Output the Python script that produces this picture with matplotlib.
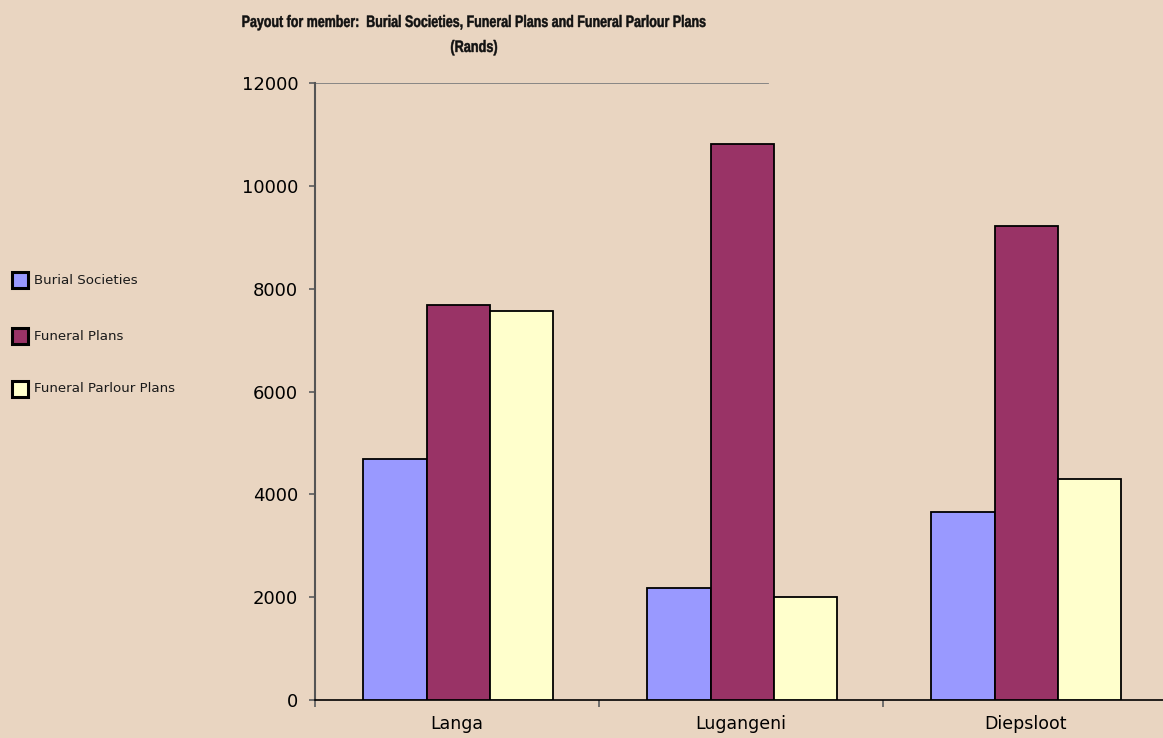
import numpy as np
import matplotlib
matplotlib.use('Agg')
import matplotlib.pyplot as plt
from matplotlib.patches import Rectangle, PathPatch
from matplotlib.textpath import TextPath
from matplotlib.font_manager import FontProperties
from matplotlib.transforms import Affine2D, IdentityTransform

# payout per member, in Rands
places = ['Langa', 'Lugangeni', 'Diepsloot']
burial = [4690, 2180, 3655]
funeral = [7680, 10810, 9220]
parlour = [7565, 2000, 4300]
series = ['Burial Societies', 'Funeral Plans', 'Funeral Parlour Plans']
colours = ['#9999FF', '#993366', '#FFFFCC']
yticks = [0, 2000, 4000, 6000, 8000, 10000, 12000]

W, H = 1163, 738
bg = '#E9D5C1'
fig = plt.figure(figsize=(W / 100, H / 100), dpi=100, facecolor=bg)
ax = fig.add_axes([315 / W, 1 - 700 / H, 852 / W, 617 / H])
ax.set_facecolor(bg)

x = np.arange(len(places))
w = 0.223
for i, vals in enumerate([burial, funeral, parlour]):
    ax.bar(x + (i - 1) * w + 0.005, vals, w, color=colours[i], edgecolor='black',
           linewidth=1.3, zorder=3)

ax.set_xlim(-0.5, 2.5)
ax.set_ylim(0, 12000)
ax.set_yticks(yticks)
ax.set_yticklabels([str(v) for v in yticks], fontsize=13, family='DejaVu Sans')
ax.set_xticks(x)
ax.set_xticklabels(places, fontsize=12.5, family='DejaVu Sans')
ax.tick_params(axis='x', length=0, pad=11)
ax.set_xticks([-0.5, 0.5, 1.5], minor=True)
ax.tick_params(axis='x', which='minor', length=5, width=1.3, color='#666666', direction='out')
ax.tick_params(axis='y', length=4, width=1.3, color='#666666', pad=8)

for s in ['top', 'right']:
    ax.spines[s].set_visible(False)
ax.spines['left'].set_color('#555555')
ax.spines['left'].set_linewidth(1.5)
ax.spines['bottom'].set_color('black')
ax.spines['bottom'].set_linewidth(1.2)

# partial gridline at the top
ax.axhline(12000, xmin=0, xmax=(768 - 315) / 852, color='#808080', linewidth=1.3, zorder=2)


def narrow_text(s, cx, cy, width, size=16.5):
    # bold text squeezed horizontally to a given pixel width, centred on (cx, cy)
    fp = FontProperties(family='Liberation Sans', weight='bold')
    tp = TextPath((0, 0), s, size=size, prop=fp)
    ext = tp.get_extents()
    sx = width / ext.width
    tr = Affine2D().translate(-ext.x0 - ext.width / 2, -size * 0.36).scale(sx, 1)
    tr = tr.translate(cx, H - cy)
    fig.patches.append(PathPatch(tr.transform_path(tp), facecolor='#111111',
                                 edgecolor='#111111', linewidth=0.35,
                                 transform=IdentityTransform()))


narrow_text('Payout for member:  Burial Societies, Funeral Plans and Funeral Parlour Plans',
            474, 21, 463)
narrow_text('(Rands)', 474, 46, 46)

# legend on the left
for name, c, yp in zip(series, colours, [280, 336, 389]):
    fig.patches.append(Rectangle((12 / W, 1 - (yp + 8) / H), 16 / W, 16 / H,
                                 transform=fig.transFigure, facecolor=c,
                                 edgecolor='black', linewidth=2.2))
    fig.text(34 / W, 1 - yp / H, name, ha='left', va='center', fontsize=9.6,
             family='DejaVu Sans', color='#1a1a1a')

fig.savefig('out.png', dpi=100, facecolor=bg)
